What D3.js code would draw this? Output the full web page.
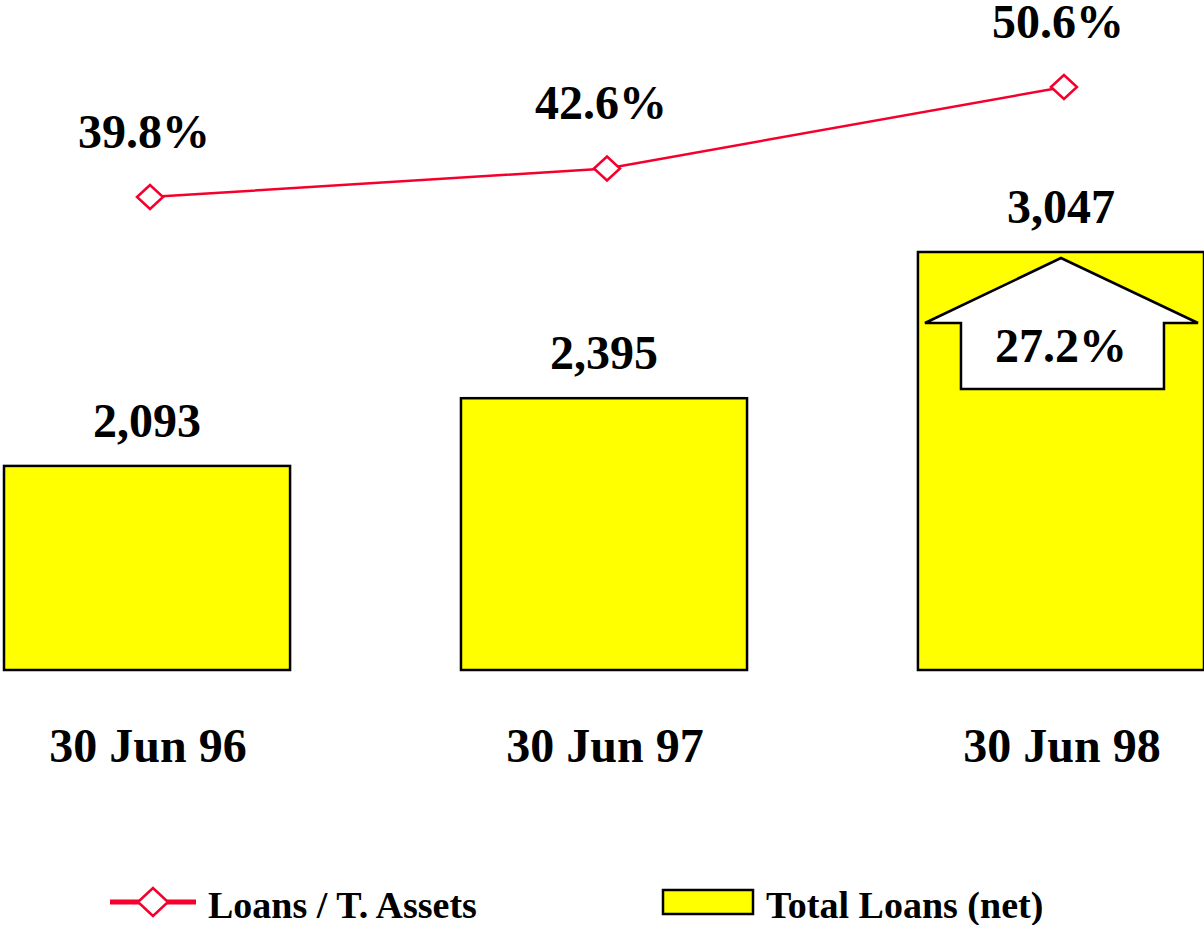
<!DOCTYPE html>
<html><head><meta charset="utf-8">
<script src="https://cdn.jsdelivr.net/npm/d3@7"></script>
<style>body{margin:0;background:#fff}svg{display:block}</style>
</head><body>
<svg id="c" width="1204" height="925"></svg>
<script>
const categories = ["30 Jun 96", "30 Jun 97", "30 Jun 98"];
const totalLoans = [2093, 2395, 3047];
const loanLabels = ["2,093", "2,395", "3,047"];
const loansToAssets = [39.8, 42.6, 50.6];
const ratioLabels = ["39.8%", "42.6%", "50.6%"];
const growthLabel = "27.2%";
const legendLabels = ["Loans / T. Assets", "Total Loans (net)"];

const RED = "#f5002d", YEL = "#ffff00";
const FONT = "'Liberation Serif','Times New Roman',serif";
const FS = 48;
const svg = d3.select("#c");

const x = d3.scaleBand().domain(categories).range([4, 1204]).paddingInner(0.374).paddingOuter(0);
const y = d3.scaleLinear().domain([1183, 3047]).range([670, 252]);
const y2 = d3.scaleLinear().domain([39.8, 50.6]).range([197, 87]);
const cx = c => x(c) + x.bandwidth() / 2;

// bars
svg.selectAll("rect.bar").data(categories).join("rect")
  .attr("x", d => x(d)).attr("y", (d, i) => y(totalLoans[i]))
  .attr("width", x.bandwidth()).attr("height", (d, i) => y(1183) - y(totalLoans[i]))
  .attr("fill", YEL).attr("stroke", "#000").attr("stroke-width", 2.5);

svg.selectAll("text.bl").data(categories).join("text")
  .attr("x", d => cx(d)).attr("y", (d, i) => y(totalLoans[i]) - 29)
  .attr("text-anchor", "middle").attr("font-family", FONT).attr("font-weight", "bold")
  .attr("font-size", FS).text((d, i) => loanLabels[i]);

// growth arrow in last bar
{
  const c = categories[2];
  const m = cx(c), top = y(totalLoans[2]);
  const pts = [[m, top + 6], [m + 137, top + 71], [m + 103, top + 71], [m + 103, top + 137],
    [m - 100, top + 137], [m - 100, top + 71], [m - 136, top + 71]];
  svg.append("path").attr("d", d3.line()(pts) + "Z").attr("fill", "#fff")
    .attr("stroke", "#000").attr("stroke-width", 2.5).attr("stroke-linejoin", "miter");
  svg.append("text").attr("x", m).attr("y", top + 110).attr("text-anchor", "middle")
    .attr("font-family", FONT).attr("font-weight", "bold").attr("font-size", FS).text(growthLabel);
}

// line
const line = d3.line().x((d, i) => cx(categories[i]) + 3).y(d => y2(d));
svg.append("path").attr("d", line(loansToAssets)).attr("fill", "none")
  .attr("stroke", RED).attr("stroke-width", 2.5);
const dia = (px, py, w, h) => `M${px - w},${py}L${px},${py - h}L${px + w},${py}L${px},${py + h}Z`;
svg.selectAll("path.pt").data(loansToAssets).join("path")
  .attr("d", (d, i) => dia(cx(categories[i]) + 3, y2(d), 13, 12))
  .attr("fill", "#fff").attr("stroke", RED).attr("stroke-width", 2.5);
svg.selectAll("text.pl").data(loansToAssets).join("text")
  .attr("x", (d, i) => cx(categories[i]) - 3).attr("y", d => y2(d) - 49)
  .attr("text-anchor", "middle").attr("font-family", FONT).attr("font-weight", "bold")
  .attr("font-size", FS).text((d, i) => ratioLabels[i]);

// category labels
svg.selectAll("text.cat").data(categories).join("text")
  .attr("x", d => cx(d) + 1).attr("y", 762).attr("text-anchor", "middle")
  .attr("font-family", FONT).attr("font-weight", "bold").attr("font-size", FS).text(d => d);

// legend
svg.append("line").attr("x1", 110).attr("x2", 196).attr("y1", 902).attr("y2", 902)
  .attr("stroke", RED).attr("stroke-width", 5);
svg.append("path").attr("d", dia(153, 902, 15, 14)).attr("fill", "#fff")
  .attr("stroke", RED).attr("stroke-width", 2.5);
svg.append("text").attr("x", 208).attr("y", 918).attr("font-family", FONT)
  .attr("font-weight", "bold").attr("font-size", 38).text(legendLabels[0]);
svg.append("rect").attr("x", 663).attr("y", 890).attr("width", 90).attr("height", 24)
  .attr("fill", YEL).attr("stroke", "#000").attr("stroke-width", 2.5);
svg.append("text").attr("x", 766).attr("y", 918).attr("font-family", FONT)
  .attr("font-weight", "bold").attr("font-size", 38).text(legendLabels[1]);
</script>
</body></html>
